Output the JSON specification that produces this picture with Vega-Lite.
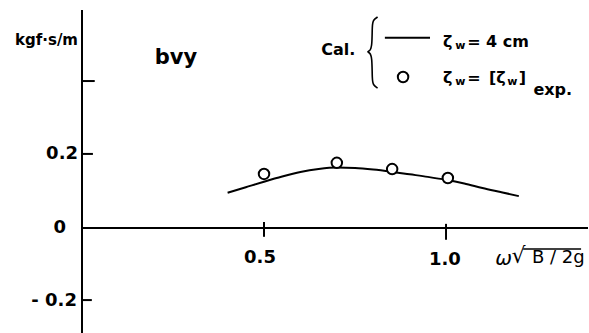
{
  "$schema": "https://vega.github.io/schema/vega-lite/v6.json",
  "width": 506,
  "height": 323,
  "autosize": "none",
  "padding": {"left": 82, "top": 10, "right": 1, "bottom": 0},
  "background": "white",
  "config": {"view": {"stroke": null}, "text": {"font": "DejaVu Sans", "fontWeight": "bold", "baseline": "middle", "color": "black"}},
  "datasets": {
    "curve": [
      {"x": 0.40, "y": 0.095}, {"x": 0.45, "y": 0.110}, {"x": 0.50, "y": 0.125}, {"x": 0.55, "y": 0.139},
      {"x": 0.60, "y": 0.151}, {"x": 0.65, "y": 0.159}, {"x": 0.70, "y": 0.163}, {"x": 0.75, "y": 0.162},
      {"x": 0.80, "y": 0.158}, {"x": 0.85, "y": 0.152}, {"x": 0.90, "y": 0.145}, {"x": 0.95, "y": 0.138},
      {"x": 1.00, "y": 0.130}, {"x": 1.05, "y": 0.120}, {"x": 1.10, "y": 0.108}, {"x": 1.15, "y": 0.097},
      {"x": 1.20, "y": 0.086}
    ],
    "points": [
      {"x": 0.50, "y": 0.146}, {"x": 0.70, "y": 0.176}, {"x": 0.852, "y": 0.159}, {"x": 1.005, "y": 0.135},
      {"x": 0.882, "y": 0.408}
    ],
    "segs": [
      {"x": 0, "x2": 0, "y": -0.284, "y2": 0.589},
      {"x": 0, "x2": 1.39, "y": 0, "y2": 0},
      {"x": 0, "x2": 0.035, "y": 0.397, "y2": 0.397},
      {"x": 0, "x2": 0.03, "y": 0.2, "y2": 0.2},
      {"x": 0, "x2": 0.027, "y": -0.195, "y2": -0.195},
      {"x": 0.5, "x2": 0.5, "y": -0.024, "y2": 0.016},
      {"x": 1.0, "x2": 1.0, "y": -0.032, "y2": 0.011},
      {"x": 0.832, "x2": 0.956, "y": 0.514, "y2": 0.514}
    ],
    "vinculum": [
      {"x": 1.212, "x2": 1.371, "y": -0.057, "y2": -0.057}
    ],
    "brace": [
      {"o": 1, "x": 0.812, "y": 0.570}, {"o": 2, "x": 0.800, "y": 0.562}, {"o": 3, "x": 0.797, "y": 0.549},
      {"o": 4, "x": 0.797, "y": 0.489}, {"o": 5, "x": 0.790, "y": 0.478}, {"o": 6, "x": 0.783, "y": 0.476},
      {"o": 7, "x": 0.790, "y": 0.474}, {"o": 8, "x": 0.797, "y": 0.463}, {"o": 9, "x": 0.797, "y": 0.400},
      {"o": 10, "x": 0.800, "y": 0.386}, {"o": 11, "x": 0.812, "y": 0.378}
    ],
    "rlabels": [
      {"x": -0.011, "y": 0.2, "t": "0.2"},
      {"x": -0.044, "y": 0.0, "t": "0"},
      {"x": -0.014, "y": -0.197, "t": "- 0.2"}
    ],
    "clabels": [
      {"x": 0.489, "y": -0.081, "t": "0.5"},
      {"x": 0.997, "y": -0.086, "t": "1.0"}
    ],
    "omega": [{"x": 1.135, "y": -0.084, "t": "ω"}],
    "radical": [{"x": 1.180, "y": -0.076, "t": "√"}],
    "radicand": [{"x": 1.236, "y": -0.081, "t": "B / 2g"}],
    "unit": [{"x": -0.011, "y": 0.508, "t": "kgf·s/m"}],
    "panel": [{"x": 0.2, "y": 0.46, "t": "bvy"}],
    "legmain": [
      {"x": 0.657, "y": 0.481, "t": "Cal."},
      {"x": 0.992, "y": 0.503, "t": "ζ"},
      {"x": 1.058, "y": 0.503, "t": "= 4 cm"},
      {"x": 0.992, "y": 0.405, "t": "ζ"},
      {"x": 1.058, "y": 0.405, "t": "="},
      {"x": 1.118, "y": 0.405, "t": "[ζ"},
      {"x": 1.200, "y": 0.405, "t": "]"}
    ],
    "legexp": [{"x": 1.240, "y": 0.373, "t": "exp."}],
    "legsub": [
      {"x": 1.025, "y": 0.492, "t": "w"},
      {"x": 1.025, "y": 0.394, "t": "w"},
      {"x": 1.168, "y": 0.394, "t": "w"}
    ]
  },
  "encoding": {
    "x": {"field": "x", "type": "quantitative", "axis": null, "scale": {"domain": [0, 1.39], "nice": false, "zero": false}},
    "y": {"field": "y", "type": "quantitative", "axis": null, "scale": {"domain": [-0.284, 0.589], "nice": false, "zero": false}}
  },
  "layer": [
    {"data": {"name": "segs"}, "mark": {"type": "rule", "color": "black", "strokeWidth": 2, "clip": false},
     "encoding": {"x2": {"field": "x2"}, "y2": {"field": "y2"}}},
    {"data": {"name": "vinculum"}, "mark": {"type": "rule", "color": "black", "strokeWidth": 1.5, "clip": false},
     "encoding": {"x2": {"field": "x2"}, "y2": {"field": "y2"}}},
    {"data": {"name": "curve"}, "mark": {"type": "line", "color": "black", "strokeWidth": 2, "interpolate": "monotone"}, "encoding": {}},
    {"data": {"name": "brace"}, "mark": {"type": "line", "color": "black", "strokeWidth": 1.6, "interpolate": "basis"},
     "encoding": {"order": {"field": "o", "type": "quantitative"}}},
    {"data": {"name": "points"}, "mark": {"type": "point", "shape": "circle", "size": 110, "filled": false, "fill": "white", "fillOpacity": 1, "stroke": "black", "strokeWidth": 2, "opacity": 1}, "encoding": {}},
    {"data": {"name": "rlabels"}, "mark": {"type": "text", "align": "right", "fontSize": 18}, "encoding": {"text": {"field": "t"}}},
    {"data": {"name": "clabels"}, "mark": {"type": "text", "align": "center", "fontSize": 18}, "encoding": {"text": {"field": "t"}}},
    {"data": {"name": "omega"}, "mark": {"type": "text", "align": "left", "fontSize": 20, "fontWeight": "normal", "fontStyle": "italic"}, "encoding": {"text": {"field": "t"}}},
    {"data": {"name": "radical"}, "mark": {"type": "text", "align": "left", "fontSize": 22, "fontWeight": "normal"}, "encoding": {"text": {"field": "t"}}},
    {"data": {"name": "radicand"}, "mark": {"type": "text", "align": "left", "fontSize": 18, "fontWeight": "normal"}, "encoding": {"text": {"field": "t"}}},
    {"data": {"name": "unit"}, "mark": {"type": "text", "align": "right", "fontSize": 15}, "encoding": {"text": {"field": "t"}}},
    {"data": {"name": "panel"}, "mark": {"type": "text", "align": "left", "fontSize": 21}, "encoding": {"text": {"field": "t"}}},
    {"data": {"name": "legmain"}, "mark": {"type": "text", "align": "left", "fontSize": 16}, "encoding": {"text": {"field": "t"}}},
    {"data": {"name": "legexp"}, "mark": {"type": "text", "align": "left", "fontSize": 16}, "encoding": {"text": {"field": "t"}}},
    {"data": {"name": "legsub"}, "mark": {"type": "text", "align": "left", "fontSize": 11}, "encoding": {"text": {"field": "t"}}}
  ]
}
